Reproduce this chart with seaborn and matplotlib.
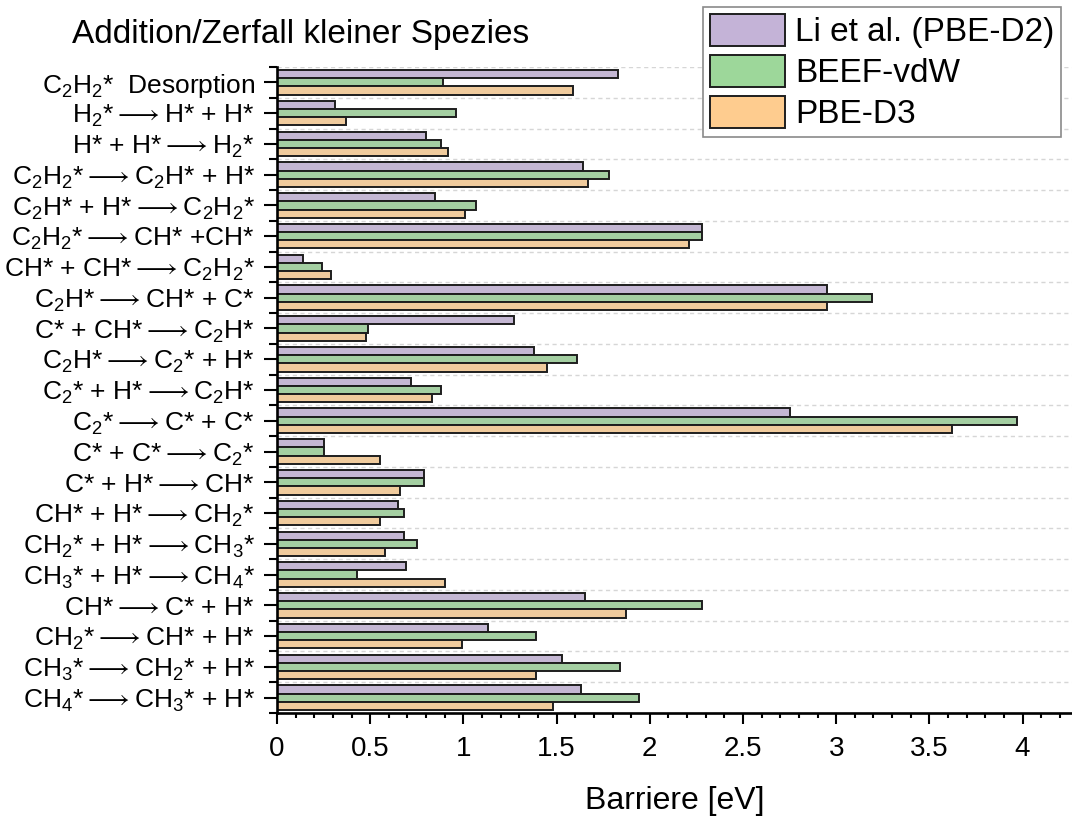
import matplotlib
matplotlib.use("Agg")
import matplotlib.pyplot as plt
from matplotlib.patches import Patch
from matplotlib.ticker import MultipleLocator, FuncFormatter
import numpy as np
import pandas as pd
import seaborn as sns

# Mathtext already pads relation symbols, so the arrow replaces the blanks around it
ARROW = r"$\longrightarrow$"

# Reaction steps (top to bottom)
reactions = [
    r"C$_2$H$_2$*  Desorption",
    r"H$_2$*{a}H* + H*",
    r"H* + H*{a}H$_2$*",
    r"C$_2$H$_2$*{a}C$_2$H* + H*",
    r"C$_2$H* + H*{a}C$_2$H$_2$*",
    r"C$_2$H$_2$*{a}CH* +CH*",
    r"CH* + CH*{a}C$_2$H$_2$*",
    r"C$_2$H*{a}CH* + C*",
    r"C* + CH*{a}C$_2$H*",
    r"C$_2$H*{a}C$_2$* + H*",
    r"C$_2$* + H*{a}C$_2$H*",
    r"C$_2$*{a}C* + C*",
    r"C* + C*{a}C$_2$*",
    r"C* + H*{a}CH*",
    r"CH* + H*{a}CH$_2$*",
    r"CH$_2$* + H*{a}CH$_3$*",
    r"CH$_3$* + H*{a}CH$_4$*",
    r"CH*{a}C* + H*",
    r"CH$_2$*{a}CH* + H*",
    r"CH$_3$*{a}CH$_2$* + H*",
    r"CH$_4$*{a}CH$_3$* + H*",
]
reactions = [r.replace("{a}", ARROW) for r in reactions]

methods = ["Li et al. (PBE-D2)", "BEEF-vdW", "PBE-D3"]

# Barriers in eV
li_pbe_d2 = [1.83, 0.31, 0.80, 1.64, 0.85, 2.28, 0.14, 2.95, 1.27, 1.38, 0.72,
             2.75, 0.25, 0.79, 0.65, 0.68, 0.69, 1.65, 1.13, 1.53, 1.63]
beef_vdw = [0.89, 0.96, 0.88, 1.78, 1.07, 2.28, 0.24, 3.19, 0.49, 1.61, 0.88,
            3.97, 0.25, 0.79, 0.68, 0.75, 0.43, 2.28, 1.39, 1.84, 1.94]
pbe_d3 = [1.59, 0.37, 0.92, 1.67, 1.01, 2.21, 0.29, 2.95, 0.48, 1.45, 0.83,
          3.62, 0.55, 0.66, 0.55, 0.58, 0.90, 1.87, 0.99, 1.39, 1.48]

colors = ["#C4B3D7", "#9DD79A", "#FECC8F"]

df = pd.DataFrame({
    "reaction": reactions * 3,
    "barrier": li_pbe_d2 + beef_vdw + pbe_d3,
    "method": [m for m in methods for _ in reactions],
})

sns.set_theme(style="white")
plt.rcParams["font.family"] = ["Liberation Sans", "DejaVu Sans"]
plt.rcParams["mathtext.fontset"] = "dejavusans"
plt.rcParams["mathtext.default"] = "regular"
for key in ["text.color", "axes.labelcolor", "xtick.color", "ytick.color"]:
    plt.rcParams[key] = "black"

fig = plt.figure(figsize=(10.72, 8.16), dpi=100)
ax = fig.add_axes([277 / 1072, 103 / 816, 1 - 277 / 1072, 646 / 816])

sns.barplot(
    data=df, y="reaction", x="barrier", hue="method", orient="h",
    order=reactions, hue_order=methods, palette=colors,
    edgecolor="#1e1e1e", linewidth=1.4, errorbar=None, legend=False, ax=ax,
)

n = len(reactions)
ax.set_ylim(n - 0.5, -0.5)
ax.set_xlim(0, 4.265)

# Dashed separators between reaction groups
ax.set_yticks(np.arange(-0.5, n, 1.0), minor=True)
ax.grid(False)
ax.grid(which="minor", axis="y", color="#d6d6d6", linestyle=(0, (3, 2.5)), linewidth=1.0)
ax.set_axisbelow(True)

ax.xaxis.set_major_locator(MultipleLocator(0.5))
ax.xaxis.set_minor_locator(MultipleLocator(0.1))
ax.xaxis.set_major_formatter(FuncFormatter(lambda v, p: f"{v:g}"))

for side in ["top", "right"]:
    ax.spines[side].set_visible(False)
for side in ["left", "bottom"]:
    ax.spines[side].set_linewidth(1.9)
    ax.spines[side].set_color("black")

ax.tick_params(axis="y", which="major", direction="out", length=9.4, width=1.5,
               color="black", labelsize=19, pad=6.5, left=True)
ax.tick_params(axis="y", which="minor", direction="out", length=5.5, width=1.5,
               color="black", left=True)
ax.tick_params(axis="x", which="major", direction="out", length=7.7, width=1.5,
               color="black", labelsize=20, pad=8.5, bottom=True)
ax.tick_params(axis="x", which="minor", direction="out", length=3.6, width=1.5,
               color="black", bottom=True)

ax.set_ylabel("")
ax.set_xlabel("Barriere [eV]", fontsize=23, labelpad=18)

fig.text(72 / 1072, 1 - 34 / 816, "Addition/Zerfall kleiner Spezies",
         fontsize=24, ha="left", va="center")

handles = [Patch(facecolor=c, edgecolor="#1e1e1e", linewidth=1.4) for c in colors]
leg = fig.legend(
    handles, methods, loc="upper right",
    bbox_to_anchor=(1061 / 1072, 1 - 7 / 816), bbox_transform=fig.transFigure,
    borderaxespad=0, fontsize=24, handlelength=2.25, handleheight=1.1,
    handletextpad=0.3, labelspacing=0.2, borderpad=0.2,
    frameon=True, fancybox=False, framealpha=1, edgecolor="#8a8a8a",
)
leg.get_frame().set_linewidth(1.2)

fig.savefig("out.png", dpi=100)
